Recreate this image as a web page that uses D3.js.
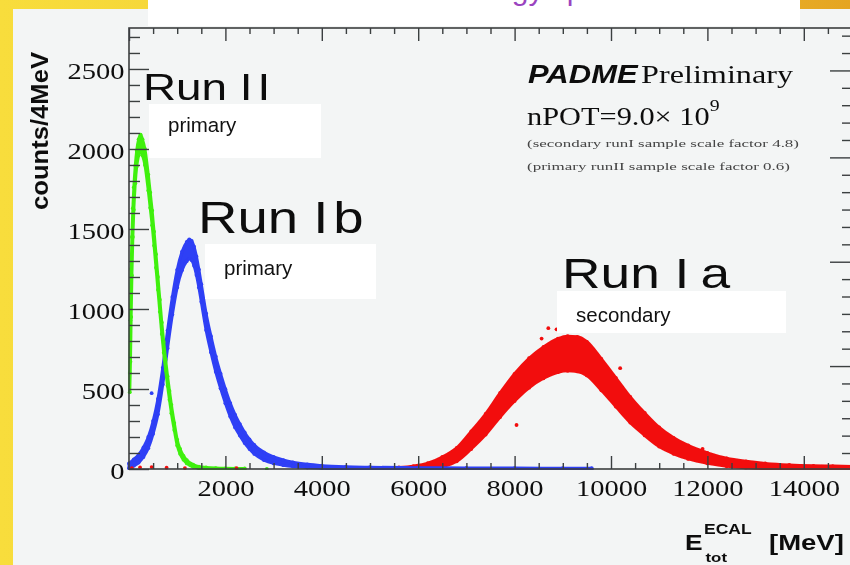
<!DOCTYPE html>
<html>
<head>
<meta charset="utf-8">
<script src="https://cdn.jsdelivr.net/npm/d3@7"></script>
<style>
  html, body { margin: 0; padding: 0; overflow: hidden; background: #f3f5f5; }
  svg { display: block; }
</style>
</head>
<body>
<svg id="chart" width="850" height="565"></svg>
<script>
// ---- Run II (primary beam): bin energy [MeV], counts/4MeV, fluctuation half-width
const runIIEnergy = [16, 30, 45, 60, 80, 100, 130, 160, 200, 240, 280, 330, 400, 440, 480, 520, 560, 600, 640, 680,
  720, 760, 800, 840, 880, 940, 1000, 1060, 1130, 1200, 1330, 1450, 1600, 1800, 2000, 2200, 2400];
const runIICounts = [540, 800, 1100, 1330, 1540, 1690, 1840, 1940, 2010, 2040, 2010, 1950, 1790, 1680, 1570, 1440, 1300, 1160, 1020, 880,
  760, 650, 550, 460, 375, 265, 165, 110, 70, 45, 20, 10, 6, 3, 2, 1, 1];
const runIISpread = [60, 130, 150, 120, 90, 70, 55, 50, 50, 50, 50, 50, 50, 48, 46, 44, 42, 40, 38, 36,
  34, 32, 30, 28, 26, 22, 18, 15, 12, 10, 7, 5, 4, 3, 2, 2, 2];

// ---- Run Ib (primary beam)
const runIbEnergy = [0, 100, 200, 300, 400, 500, 600, 700, 800, 900, 1000, 1100, 1200, 1250, 1300, 1350, 1400, 1450, 1500,
  1600, 1700, 1800, 1900, 2000, 2100, 2200, 2300, 2400, 2500, 2600, 2800, 3000, 3200, 3400, 3700, 4000, 4500, 5000,
  6000, 7000, 8000, 9000, 9600];
const runIbCounts = [20, 40, 65, 105, 165, 260, 390, 580, 810, 1020, 1190, 1300, 1360, 1375, 1365, 1330, 1270, 1190, 1100,
  920, 780, 655, 550, 455, 370, 300, 245, 195, 155, 122, 80, 55, 40, 29, 19, 13, 8, 6,
  4, 3, 3, 2, 2];
const runIbSpread = [15, 20, 25, 30, 35, 40, 48, 52, 55, 55, 55, 58, 60, 60, 60, 60, 58, 56, 55,
  52, 50, 48, 46, 44, 42, 40, 36, 33, 30, 28, 24, 20, 16, 13, 10, 8, 6, 5,
  4, 4, 3, 3, 3];

// ---- Run Ia (secondary beam, scaled by 4.8)
const runIaEnergy = [5600, 5900, 6200, 6500, 6800, 7100, 7400, 7700, 8000, 8300, 8600, 8900, 9100, 9300, 9500,
  9800, 10100, 10400, 10700, 11000, 11300, 11600, 12000, 12400, 12800, 13200, 13700, 14200, 14600, 15000];
const runIaCounts = [4, 8, 18, 45, 90, 180, 280, 400, 510, 600, 665, 710, 722, 718, 690,
  590, 480, 370, 280, 200, 145, 105, 68, 42, 28, 19, 13, 10, 9, 8];
const runIaSpread = [6, 10, 18, 30, 42, 55, 65, 75, 85, 92, 98, 105, 108, 108, 105,
  98, 90, 80, 70, 60, 50, 42, 33, 25, 20, 16, 12, 10, 9, 8];

// isolated bins lying off the main bands
const runIaStrayEnergy = [60, 230, 470, 780, 1160, 2230, 8040, 8560, 8700, 8870, 10190, 11900];
const runIaStrayCounts = [5, 10, 12, 8, 6, 5, 275, 815, 880, 873, 630, 125];
const runIbStrayEnergy = [470];
const runIbStrayCounts = [474];
const runIIStrayEnergy = [2860];
const runIIStrayCounts = [1];

// ---- axes
const xTickLabels = [2000, 4000, 6000, 8000, 10000, 12000, 14000];
const yTickLabels = [0, 500, 1000, 1500, 2000, 2500];
const rightAxisMajor = [6, 12, 18, 23];

const COLORS = { runII: "#3ff010", runIb: "#2f3ff5", runIa: "#f20c0c" };
const SERIF = "'Liberation Serif', 'Times New Roman', serif";
const SANS = "'Liberation Sans', Arial, Helvetica, sans-serif";
const SX = 1.24; // horizontal stretch of the plot lettering

const svg = d3.select("#chart");
const defs = svg.append("defs");

const grad = defs.append("linearGradient").attr("id", "frameGrad")
  .attr("x1", "0").attr("x2", "1").attr("y1", "0").attr("y2", "0");
grad.append("stop").attr("offset", "0").attr("stop-color", "#f8dd3c");
grad.append("stop").attr("offset", "0.45").attr("stop-color", "#f3cf35");
grad.append("stop").attr("offset", "1").attr("stop-color", "#e5a522");

const soft = defs.append("filter").attr("id", "soft")
  .attr("x", "-5%").attr("y", "-5%").attr("width", "110%").attr("height", "110%");
soft.append("feGaussianBlur").attr("stdDeviation", 0.55);

defs.append("clipPath").attr("id", "plotClip")
  .append("rect").attr("x", 127).attr("y", 28).attr("width", 725).attr("height", 442);

// slide background
svg.append("rect").attr("width", 850).attr("height", 565).attr("fill", "url(#frameGrad)");
svg.append("rect").attr("x", 13).attr("y", 9).attr("width", 837).attr("height", 556).attr("fill", "#f3f5f5");

// slide title strip (the heading sits mostly above the visible area)
svg.append("rect").attr("x", 148).attr("y", 0).attr("width", 652).attr("height", 26).attr("fill", "#ffffff");
svg.append("text").attr("x", 380).attr("y", -0.5)
  .attr("font-family", SANS).attr("font-size", 30).attr("fill", "#9a44bf")
  .text("Total energy spectrum");

// ---- plot
const x = d3.scaleLinear().domain([0, 15000]).range([129, 852]);
const y = d3.scaleLinear().domain([0, 2756]).range([469, 28]);
const yRight = d3.scaleLinear().domain([0, 25.44]).range([470.4, 28]);

const root = svg.append("g").attr("filter", "url(#soft)");
const data = root.append("g").attr("clip-path", "url(#plotClip)");

function band(energy, counts, spread, color) {
  const pts = energy.map((e, i) => ({ e, lo: Math.max(0, counts[i] - spread[i]), hi: counts[i] + spread[i] }));
  const area = d3.area()
    .x(d => x(d.e)).y0(d => y(d.lo)).y1(d => y(d.hi))
    .curve(d3.curveMonotoneX);
  const g = data.append("g");
  g.append("path").attr("d", area(pts))
    .attr("fill", color).attr("stroke", color)
    .attr("stroke-width", 3).attr("stroke-linejoin", "round");
  g.selectAll("circle.edge").data(pts.flatMap(d => [[d.e, d.lo], [d.e, d.hi]]))
    .join("circle").attr("class", "edge")
    .attr("cx", d => x(d[0])).attr("cy", d => y(d[1])).attr("r", 1.9)
    .attr("fill", color);
}

function strays(energy, counts, color) {
  data.append("g").selectAll("circle").data(energy.map((e, i) => [e, counts[i]]))
    .join("circle")
    .attr("cx", d => x(d[0])).attr("cy", d => y(d[1])).attr("r", 1.9)
    .attr("fill", color);
}

band(runIaEnergy, runIaCounts, runIaSpread, COLORS.runIa);
band(runIbEnergy, runIbCounts, runIbSpread, COLORS.runIb);
band(runIIEnergy, runIICounts, runIISpread, COLORS.runII);
strays(runIaStrayEnergy, runIaStrayCounts, COLORS.runIa);
strays(runIbStrayEnergy, runIbStrayCounts, COLORS.runIb);
strays(runIIStrayEnergy, runIIStrayCounts, COLORS.runII);

// ---- axes (ticks point into the frame)
const tickColor = "#3b3f40";
const plain = d3.format("d");
function styleAxis(g) {
  g.select(".domain").remove();
  g.selectAll(".tick line").attr("stroke", tickColor).attr("stroke-width", 1.4);
}

const xMinor = d3.range(500, 15000, 500).filter(v => v % 2000 !== 0);
const yMinor = d3.range(100, 2756, 100).filter(v => v % 500 !== 0);
const xMajor = d3.range(0, 15001, 2000);

// bottom
root.append("g").attr("transform", `translate(0,${y(0)})`)
  .call(d3.axisBottom(x).tickValues(xMinor).tickSizeInner(-6).tickSizeOuter(0).tickFormat(""))
  .call(styleAxis);
const bottomMajor = root.append("g").attr("transform", `translate(0,${y(0)})`)
  .call(d3.axisBottom(x).tickValues(xTickLabels).tickSizeInner(-13).tickSizeOuter(0).tickPadding(10.8).tickFormat(plain))
  .call(styleAxis);
bottomMajor.selectAll("text")
  .attr("font-family", SERIF).attr("font-size", 23).attr("fill", "#111")
  .attr("transform", `scale(${SX},1)`);

// top
root.append("g").attr("transform", `translate(0,${y.range()[1]})`)
  .call(d3.axisTop(x).tickValues(xMinor).tickSizeInner(-6).tickSizeOuter(0).tickFormat(""))
  .call(styleAxis);
root.append("g").attr("transform", `translate(0,${y.range()[1]})`)
  .call(d3.axisTop(x).tickValues(xMajor).tickSizeInner(-13).tickSizeOuter(0).tickFormat(""))
  .call(styleAxis);

// left
root.append("g").attr("transform", `translate(${x(0)},0)`)
  .call(d3.axisLeft(y).tickValues(yMinor).tickSizeInner(-11).tickSizeOuter(0).tickFormat(""))
  .call(styleAxis);
const leftMajor = root.append("g").attr("transform", `translate(${x(0)},0)`)
  .call(d3.axisLeft(y).tickValues(yTickLabels).tickSizeInner(-20).tickSizeOuter(0).tickPadding(3.6).tickFormat(plain))
  .call(styleAxis);
leftMajor.selectAll("text")
  .attr("font-family", SERIF).attr("font-size", 23).attr("fill", "#111")
  .attr("dy", "0.43em")
  .attr("transform", `scale(${SX},1)`);

// right (secondary scale, unlabelled)
const rightMinor = d3.range(1, 26).filter(v => !rightAxisMajor.includes(v));
root.append("g").attr("transform", `translate(${x.range()[1]},0)`)
  .call(d3.axisRight(yRight).tickValues(rightMinor).tickSizeInner(-10).tickSizeOuter(0).tickFormat(""))
  .call(styleAxis);
root.append("g").attr("transform", `translate(${x.range()[1]},0)`)
  .call(d3.axisRight(yRight).tickValues(rightAxisMajor).tickSizeInner(-22).tickSizeOuter(0).tickFormat(""))
  .call(styleAxis);

// frame
root.append("rect")
  .attr("x", x.range()[0]).attr("y", y.range()[1])
  .attr("width", x.range()[1] - x.range()[0]).attr("height", y.range()[0] - y.range()[1])
  .attr("fill", "none").attr("stroke", tickColor).attr("stroke-width", 1.6);

// ---- lettering
function label(str, px, py, opt) {
  const t = root.append("text")
    .attr("transform", `translate(${px},${py}) scale(${opt.sx || SX},1)`)
    .attr("font-family", opt.family || SANS)
    .attr("font-size", opt.size)
    .attr("font-weight", opt.weight || "normal")
    .attr("font-style", opt.style || "normal")
    .attr("fill", opt.fill || "#111")
    .attr("text-anchor", opt.anchor || "start");
  t.text(str);
  return t;
}

// axis titles
root.append("text")
  .attr("transform", "translate(48,131) rotate(-90)")
  .attr("text-anchor", "middle")
  .attr("font-family", SANS).attr("font-weight", "bold").attr("font-size", 23)
  .attr("textLength", 158).attr("lengthAdjust", "spacingAndGlyphs")
  .attr("fill", "#111")
  .text("counts/4MeV");

label("E", 685, 550, { size: 22, weight: "bold", sx: 1.2 });
label("ECAL", 704, 534, { size: 14, weight: "bold", sx: 1.25 });
label("tot", 705.5, 562, { size: 13.5, weight: "bold", sx: 1.25 });
label("[MeV]", 769, 550, { size: 22, weight: "bold", sx: 1.25 });

// run labels
const r2 = label("Run I", 143, 100, { size: 37 });
r2.append("tspan").attr("dx", 4).text("I");
const r1b = label("Run I", 198, 233, { size: 44 });
r1b.append("tspan").attr("dx", 4).text("b");
const r1a = label("Run I", 562, 288, { size: 43 });
r1a.append("tspan").attr("dx", 9).text("a");

// PADME caption
label("PADME", 528, 83, { size: 25, weight: "bold", style: "italic" });
label("Preliminary", 641, 83, { size: 26, family: SERIF });
const npot = label("nPOT=9.0\u00d7 10", 527, 125, { size: 24.5, family: SERIF });
npot.append("tspan").attr("dy", -14).attr("font-size", 16).text("9");
root.append("text").attr("x", 527).attr("y", 147)
  .attr("font-family", SERIF).attr("font-size", 10.5).attr("fill", "#444")
  .attr("textLength", 272).attr("lengthAdjust", "spacingAndGlyphs")
  .text("(secondary runI sample scale factor 4.8)");
root.append("text").attr("x", 527).attr("y", 170)
  .attr("font-family", SERIF).attr("font-size", 10.5).attr("fill", "#444")
  .attr("textLength", 263).attr("lengthAdjust", "spacingAndGlyphs")
  .text("(primary runII sample scale factor 0.6)");

// ---- beam-type tags
const tags = [
  { text: "primary", box: [149, 104, 172, 54], tx: 168, ty: 132 },
  { text: "primary", box: [205, 244, 171, 55], tx: 224, ty: 275 },
  { text: "secondary", box: [557, 291, 229, 42], tx: 576, ty: 322 }
];
const tagG = svg.append("g");
tagG.selectAll("rect").data(tags).join("rect")
  .attr("x", d => d.box[0]).attr("y", d => d.box[1])
  .attr("width", d => d.box[2]).attr("height", d => d.box[3])
  .attr("fill", "#ffffff");
tagG.selectAll("text").data(tags).join("text")
  .attr("x", d => d.tx).attr("y", d => d.ty)
  .attr("font-family", SANS).attr("font-size", 20.5).attr("fill", "#111")
  .text(d => d.text);
</script>
</body>
</html>
